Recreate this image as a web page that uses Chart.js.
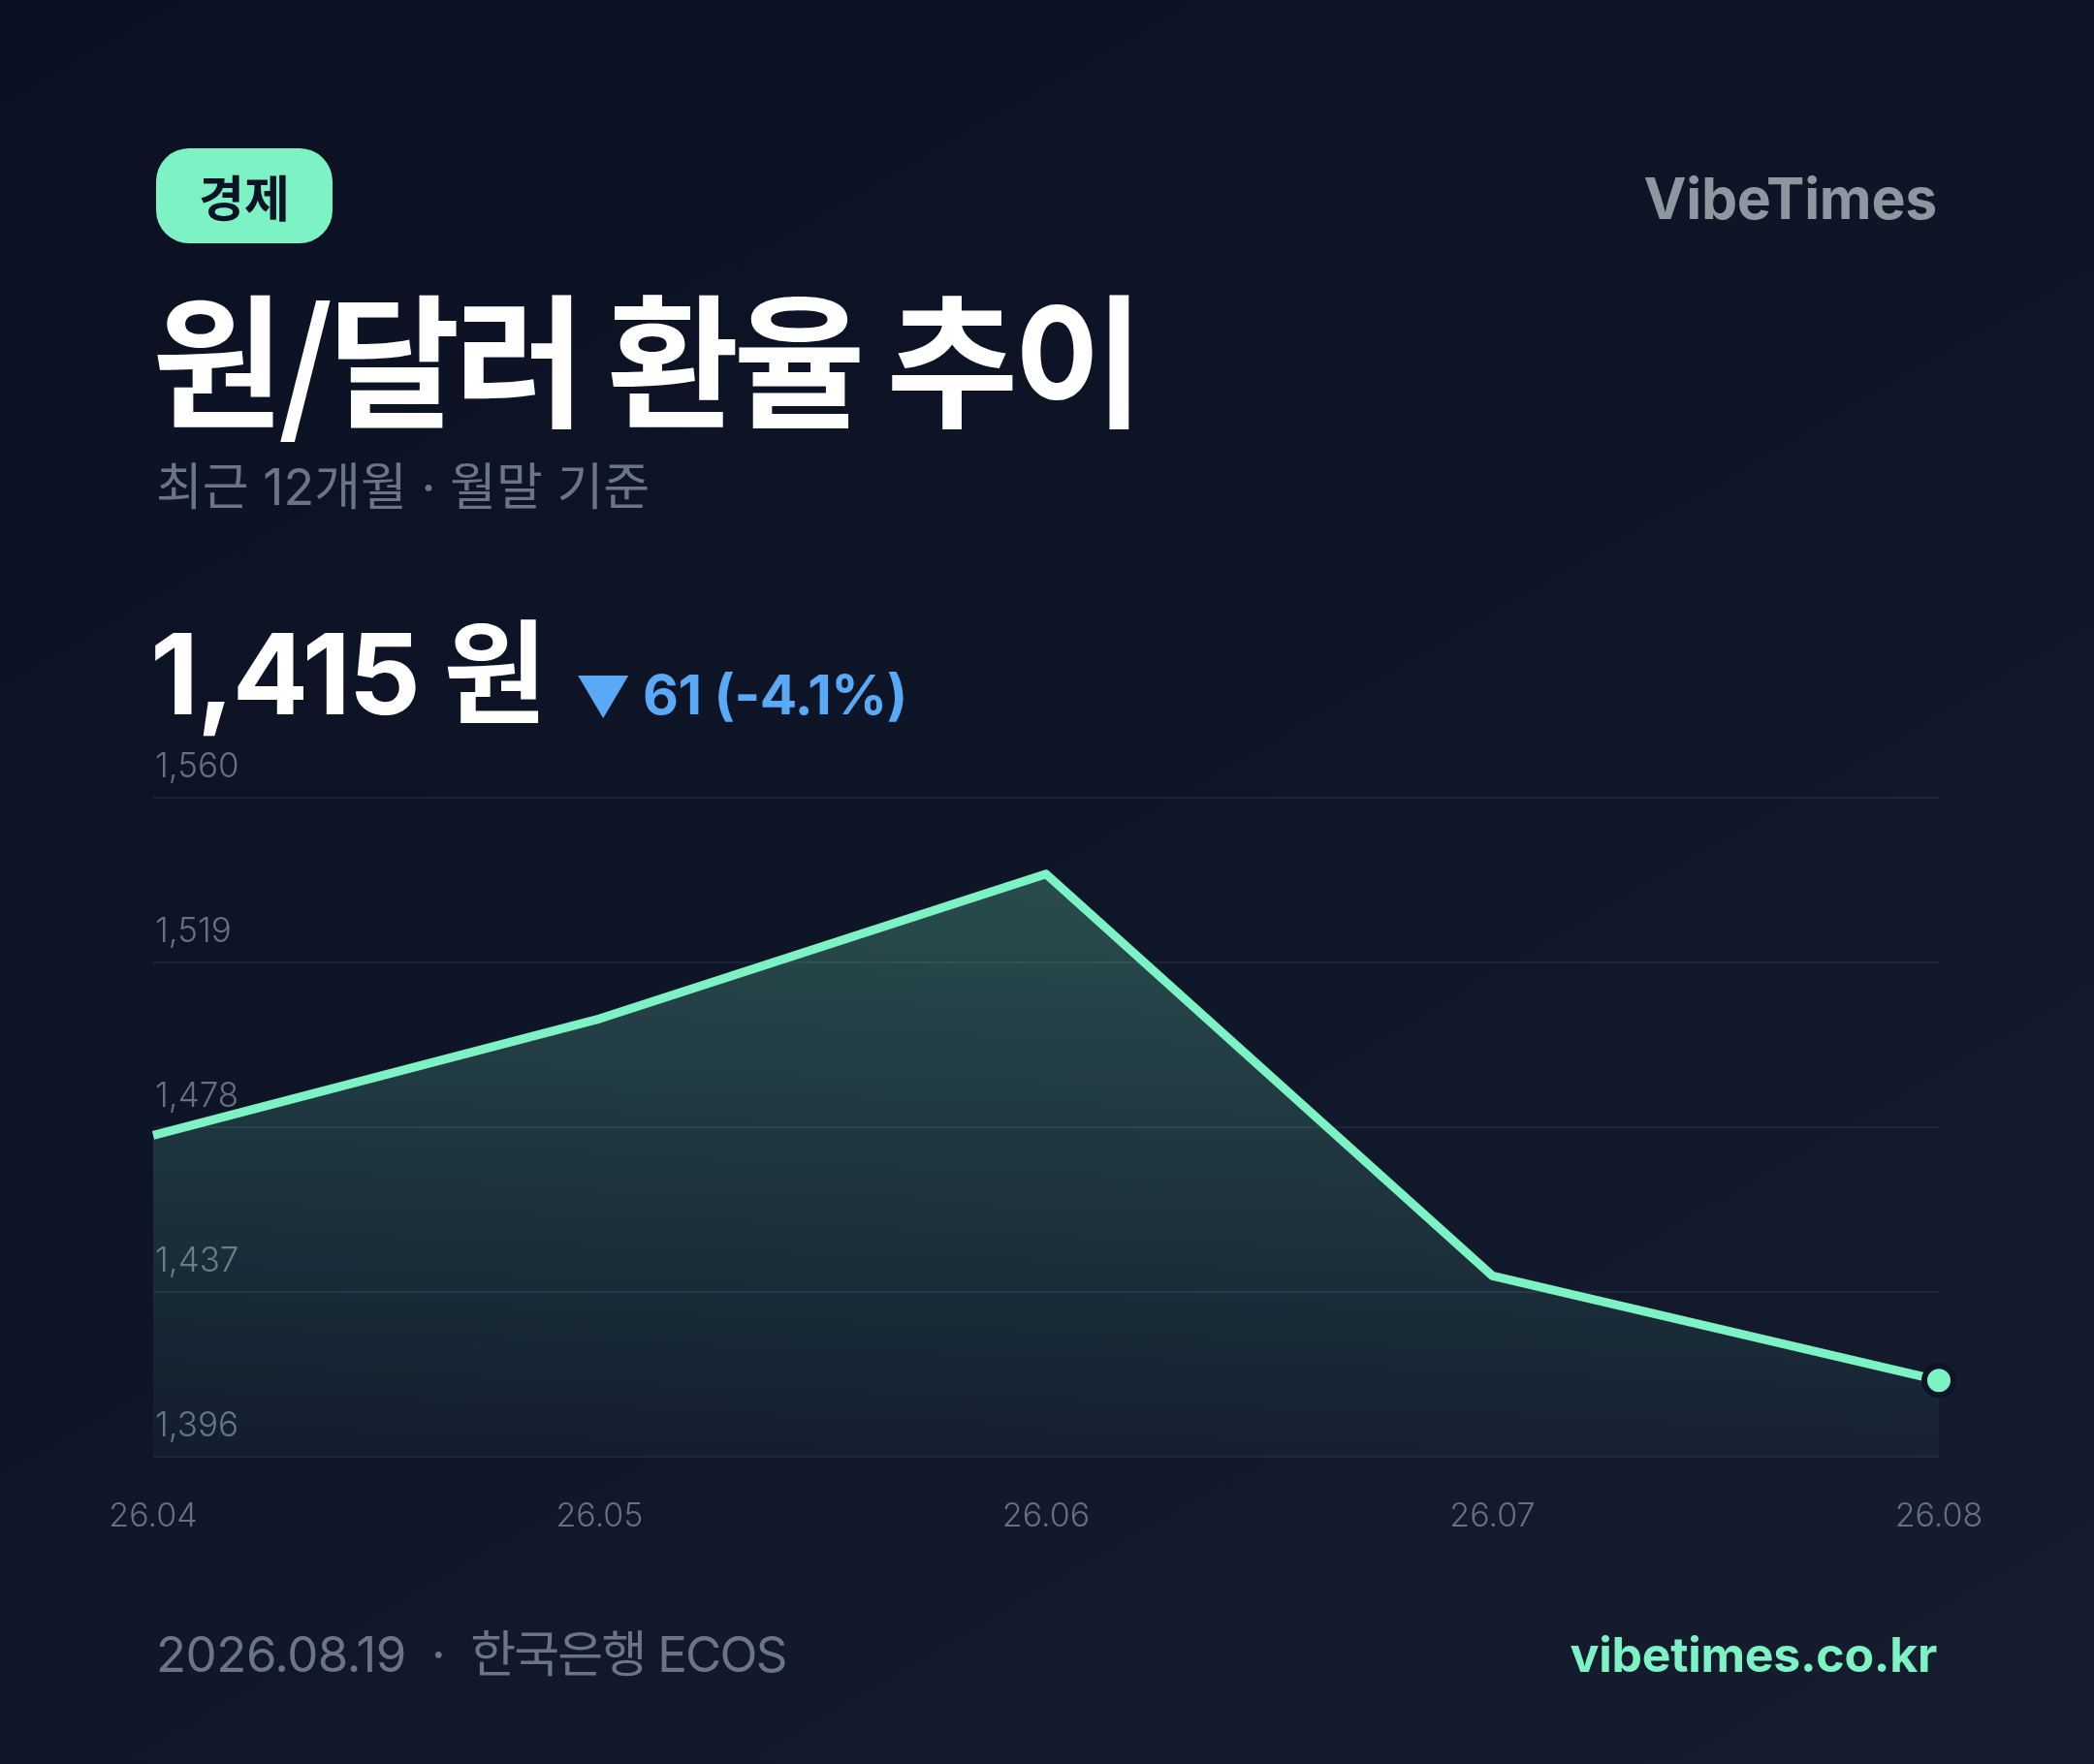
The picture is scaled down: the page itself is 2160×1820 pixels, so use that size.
<!DOCTYPE html>
<html>
<head>
<meta charset="utf-8">
<script src="https://cdn.jsdelivr.net/npm/chart.js@4.4.1/dist/chart.umd.min.js"></script>
<style>
html,body{margin:0;padding:0;background:#0c1224;}
#page{position:relative;width:2160px;height:1820px;overflow:hidden;
  background:linear-gradient(150deg,#0b1123 0%,#0e1527 45%,#151d2f 100%);
  font-family:Inter,"Noto Sans CJK KR",sans-serif;}
#chart{position:absolute;left:0;top:0;}
.abs{position:absolute;white-space:nowrap;line-height:1;}
#badge{left:161px;top:153px;width:182px;height:98px;border-radius:34px;background:#7df2c4;
  color:#0c1326;font-weight:700;font-size:51px;display:flex;align-items:center;justify-content:center;
  font-family:"Noto Sans CJK KR",sans-serif;}
#brand{right:162px;top:175px;font-size:59px;font-weight:700;color:#8c979f;letter-spacing:-0.3px;}
#title{left:157px;top:291px;font-size:148px;font-weight:700;color:#ffffff;letter-spacing:-6px;
  font-family:"Noto Sans CJK KR",sans-serif;}
#subtitle{left:161px;top:477px;font-size:52px;font-weight:400;color:#6b7684;letter-spacing:0px;}
#value{left:155px;top:637px;font-size:116px;font-weight:700;color:#ffffff;letter-spacing:-2px;}
#tri{left:596px;top:686px;font-size:62px;color:#5aa9f7;font-family:"DejaVu Sans",sans-serif;
  transform:scale(1.1,0.93);transform-origin:0 0;}
#change{left:663px;top:688px;font-size:57px;font-weight:700;color:#5aa9f7;letter-spacing:-0.5px;}
#foot{left:161px;top:1681px;font-size:51px;font-weight:400;color:#6b7684;letter-spacing:-0.5px;}
#foot .dot{margin:0 26px;}
#foot .src{letter-spacing:-1.8px;}
#site{right:162px;top:1682px;font-size:50px;font-weight:700;color:#7df2c4;letter-spacing:-0.3px;}
</style>
</head>
<body>
<div id="page">
  <canvas id="chart" width="2160" height="1820"></canvas>
  <div id="badge" class="abs">경제</div>
  <div id="brand" class="abs">VibeTimes</div>
  <div id="title" class="abs">원/달러 환율 추이</div>
  <div id="subtitle" class="abs">최근 12개월 · 월말 기준</div>
  <div id="value" class="abs">1,415 원</div>
  <div id="tri" class="abs">▼</div>
  <div id="change" class="abs">61 (-4.1%)</div>
  <div id="foot" class="abs">2026.08.19<span class="dot">·</span><span class="src">한국은행 ECOS</span></div>
  <div id="site" class="abs">vibetimes.co.kr</div>
</div>
<script>
// ---- data ----
const months = ['26.04', '26.05', '26.06', '26.07', '26.08'];
const rates = [1476, 1505, 1541, 1441, 1415];
const yTicks = [1396, 1437, 1478, 1519, 1560];

const MINT = '#7df2c4';
const ctx = document.getElementById('chart').getContext('2d');

new Chart(ctx, {
  type: 'line',
  data: {
    labels: months,
    datasets: [{
      data: rates,
      borderColor: MINT,
      borderWidth: 9,
      borderJoinStyle: 'round',
      tension: 0,
      fill: true,
      clip: false,
      backgroundColor: (c) => {
        const area = c.chart.chartArea;
        if (!area) return 'rgba(125,242,196,0.15)';
        const g = c.chart.ctx.createLinearGradient(0, area.top, 0, area.bottom);
        g.addColorStop(0, 'rgba(125,242,196,0.28)');
        g.addColorStop(1, 'rgba(125,242,196,0.03)');
        return g;
      },
      pointRadius: rates.map((v, i) => i === rates.length - 1 ? 15 : 0),
      pointBackgroundColor: MINT,
      pointBorderColor: '#0e1426',
      pointBorderWidth: 6,
      pointHoverRadius: 0
    }]
  },
  options: {
    responsive: false,
    animation: false,
    events: [],
    layout: { padding: { left: 158, right: 160, top: 823, bottom: 0 } },
    plugins: { legend: { display: false }, tooltip: { enabled: false } },
    scales: {
      x: {
        grid: { display: false },
        border: { display: false },
        ticks: {
          color: '#65717e',
          font: { family: 'Inter', size: 34, weight: '300' },
          padding: 33,
          maxRotation: 0,
          autoSkip: false
        },
        afterFit: (s) => { s.height = 317; }
      },
      y: {
        min: yTicks[0],
        max: yTicks[yTicks.length - 1],
        afterBuildTicks: (s) => { s.ticks = yTicks.map(v => ({ value: v })); },
        grid: { color: 'rgba(140,170,190,0.10)', lineWidth: 2, drawTicks: false },
        border: { display: false },
        ticks: {
          mirror: true,
          padding: 2,
          labelOffset: -32,
          color: '#65717e',
          font: { family: 'Inter', size: 35, weight: '300' },
          callback: (v) => Number(v).toLocaleString('en-US')
        },
        afterFit: (s) => { s.width = 0; }
      }
    }
  }
});
</script>
</body>
</html>
